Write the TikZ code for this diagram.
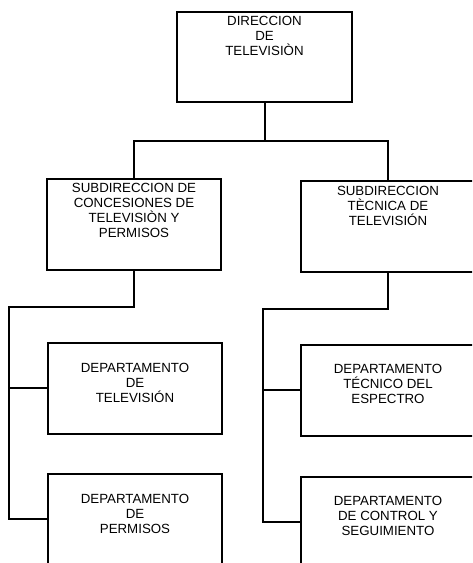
\documentclass[tikz,border=0pt]{standalone}
\usepackage{fontspec}
\setmainfont{Liberation Sans}
\usetikzlibrary{calc}
\tikzset{
  unitbox/.style={draw, line width=2pt, minimum width=174pt, minimum height=91pt,
    anchor=north west, inner sep=0pt, outer sep=0pt},
  unittext/.style={anchor=north, align=center, inner sep=0pt,
    font=\fontsize{13.3}{15}\selectfont},
  conn/.style={line width=2pt},
}
\begin{document}
\begin{tikzpicture}[x=1pt,y=-1pt]
  \useasboundingbox (0,0) rectangle (472,563);
  \clip (0,0) rectangle (472,563);
  % direccion
  \node[unitbox, minimum width=175pt, minimum height=90pt] (dir) at (177,12) {};
  \node[unittext] (dirtxt) at ($(dir.north)+(0,4.5)$) {DIRECCION\\DE\\TELEVISIÒN};
  % subdirecciones
  \node[unitbox] (subcon) at (47,179) {};
  \node[unittext] (subcontxt) at ($(subcon.north)+(0,4.5)$) {SUBDIRECCION DE\\CONCESIONES DE\\TELEVISIÒN Y\\PERMISOS};
  \node[unitbox] (subtec) at (301,181) {};
  \node[unittext] (subtectxt) at ($(subtec.north)+(0,5.3)$) {SUBDIRECCION\\TÈCNICA DE\\TELEVISIÓN};
  % departamentos
  \node[unitbox] (deptv) at (48,342.5) {};
  \node[unittext] (deptvtxt) at ($(deptv.north)+(0,20.8)$) {DEPARTAMENTO\\DE\\TELEVISIÓN};
  \node[unitbox] (depper) at (48,473.5) {};
  \node[unittext] (deppertxt) at ($(depper.north)+(0,20.8)$) {DEPARTAMENTO\\DE\\PERMISOS};
  \node[unitbox] (depesp) at (301,344.5) {};
  \node[unittext] (depesptxt) at ($(depesp.north)+(0,19.8)$) {DEPARTAMENTO\\TÉCNICO DEL\\ESPECTRO};
  \node[unitbox] (depctl) at (301,476.5) {};
  \node[unittext] (depctltxt) at ($(depctl.north)+(0,19.8)$) {DEPARTAMENTO\\DE CONTROL Y\\SEGUIMIENTO};
  % lines
  \coordinate (bus) at ($(dir.south)+(0.5,39)$);
  \coordinate (lbend) at (9,307);
  \coordinate (rbend) at (263,309);
  \draw[conn] ($(dir.south)+(0.5,0)$) -- (bus);
  \draw[conn] (subcon.north) |- (bus) -| (subtec.north);
  \draw[conn] (subcon.south) |- (lbend) |- (depper.west);
  \draw[conn] (lbend |- deptv.west) -- (deptv.west);
  \draw[conn] (subtec.south) |- (rbend) |- (depctl.west);
  \draw[conn] (rbend |- depesp.west) -- (depesp.west);
\end{tikzpicture}
\end{document}
